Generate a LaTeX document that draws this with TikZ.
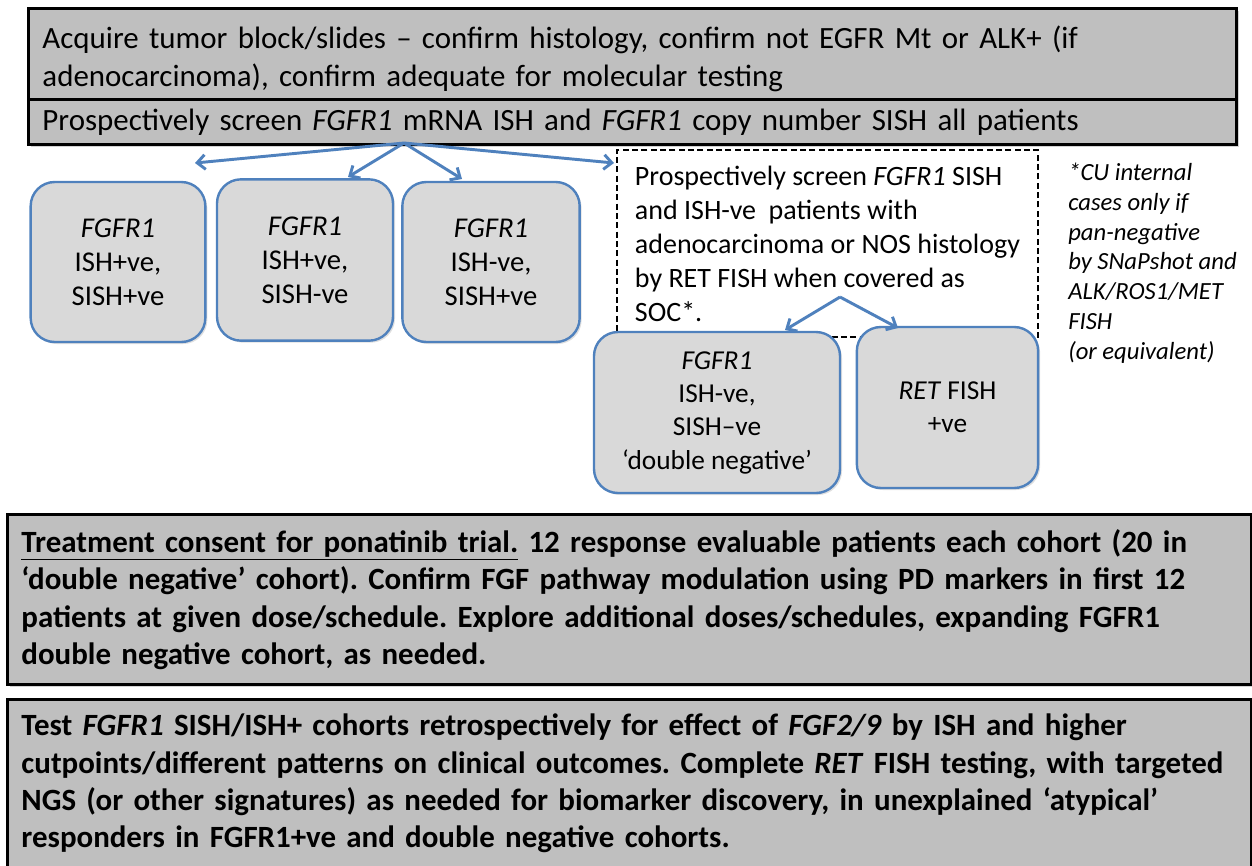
\documentclass[tikz,border=0pt]{standalone}
\usepackage{fontspec}
\setmainfont{Carlito}
\usetikzlibrary{arrows.meta,shadows}
\definecolor{cublue}{RGB}{79,129,189}
\definecolor{bargrey}{RGB}{191,191,191}
\definecolor{cellgrey}{RGB}{217,217,217}
\frenchspacing
\begin{document}
\begin{tikzpicture}[x=0.75pt,y=-0.75pt,
    bar/.style={draw=black,line width=2.2pt,fill=bargrey,anchor=north west,
      align=left,inner xsep=10.5pt,inner ysep=0pt,
      drop shadow={shadow xshift=2pt,shadow yshift=-2pt,opacity=.35}},
    cell/.style={draw=cublue,line width=1.8pt,fill=cellgrey,rounded corners=18pt,
      align=center,inner sep=0pt,
      drop shadow={shadow xshift=1.5pt,shadow yshift=-1.5pt,opacity=.25},
      font=\fontsize{21.5}{25.5}\selectfont},
    flow/.style={draw=cublue,line width=2.2pt,-{Straight Barb[length=6pt,width=11pt]}},
    every node/.style={font=\fontsize{23.2}{28.5}\selectfont}]
  \useasboundingbox (0,0) rectangle (1252,865);
  \node[bar,minimum width=906pt,minimum height=68.25pt,text width=885pt] (acquire) at (27,7)
    {\rule{0pt}{24pt}Acquire tumor block/slides -- confirm histology, confirm not EGFR Mt or ALK+ (if\\
     adenocarcinoma), confirm adequate for molecular testing};
  \node[bar,minimum width=906pt,minimum height=33.75pt,text width=885pt] (screen) at (27,98)
    {Prospectively screen \textit{FGFR1} mRNA ISH and \textit{FGFR1} copy number SISH all patients};
  \node[cell,minimum width=131pt,minimum height=120pt] (pospos) at (118,262)
    {\textit{FGFR1}\\ISH+ve,\\SISH+ve};
  \node[cell,minimum width=132pt,minimum height=121pt] (posneg) at (305,260)
    {\textit{FGFR1}\\ISH+ve,\\SISH-ve};
  \node[cell,minimum width=133pt,minimum height=120pt] (negpos) at (491,262)
    {\textit{FGFR1}\\ISH-ve,\\SISH+ve};
  \node[draw=black,line width=1.5pt,dash pattern=on 4.5pt off 2.5pt,fill=white,align=left,
    minimum width=315.75pt,minimum height=140.25pt,inner sep=0pt,
    font=\fontsize{21}{25.5}\selectfont] (retscreen) at (827.5,243.5)
    {Prospectively screen \textit{FGFR1} SISH\\
     and ISH-ve\ \ patients with\\
     adenocarcinoma or NOS histology\\
     by RET FISH when covered as\\
     SOC*.};
  \node[cell,minimum width=184.5pt,minimum height=120.75pt,
    font=\fontsize{20.5}{25}\selectfont] (dblneg) at (717,412.5)
    {\textit{FGFR1}\\ISH-ve,\\SISH--ve\\‘double negative’};
  \node[cell,minimum width=136pt,minimum height=120.75pt,
    font=\fontsize{20.5}{25}\selectfont] (retpos) at (947.5,407.5)
    {\textit{RET} FISH\\+ve};
  \node[anchor=north west,align=left,inner sep=0pt,
    font=\fontsize{18.5}{22.3}\selectfont\itshape] (cunote) at (1068,163)
    {*CU internal\\cases only if\\pan-negative\\by SNaPshot and\\ALK/ROS1/MET\\FISH\\(or equivalent)};
  \node[bar,minimum width=933pt,minimum height=127.5pt,text width=912pt,
    font=\fontsize{23.2}{28}\selectfont\bfseries] (consent) at (6,513)
    {\underline{Treatment consent for ponatinib trial.} 12 response evaluable patients each cohort (20 in\\
     ‘double negative’ cohort). Confirm FGF pathway modulation using PD markers in first 12\\
     patients at given dose/schedule. Explore additional doses/schedules, expanding FGFR1\\
     double negative cohort, as needed.};
  \node[bar,minimum width=933pt,minimum height=126pt,text width=912pt,
    font=\fontsize{23.2}{28}\selectfont\bfseries] (retro) at (6,698)
    {Test \textit{FGFR1} SISH/ISH+ cohorts retrospectively for effect of \textit{FGF2/9} by ISH and higher\\
     cutpoints/different patterns on clinical outcomes. Complete \textit{RET} FISH testing, with targeted\\
     NGS (or other signatures) as needed for biomarker discovery, in unexplained ‘atypical’\\
     responders in FGFR1+ve and double negative cohorts.};
  \coordinate (fork) at (404,143);
  \coordinate (tipA) at (195,163);
  \coordinate (tipB) at (348,177);
  \coordinate (tipC) at (462,179);
  \coordinate (tipR) at (614,163);
  \coordinate (socfork) at (840,297);
  \coordinate (tipD) at (785,330);
  \coordinate (tipE) at (898,328);
  \draw[flow] (fork) -- (tipA);
  \draw[flow] (fork) -- (tipB);
  \draw[flow] (fork) -- (tipC);
  \draw[flow] (fork) -- (tipR);
  \draw[flow] (socfork) -- (tipD);
  \draw[flow] (socfork) -- (tipE);
\end{tikzpicture}
\end{document}
